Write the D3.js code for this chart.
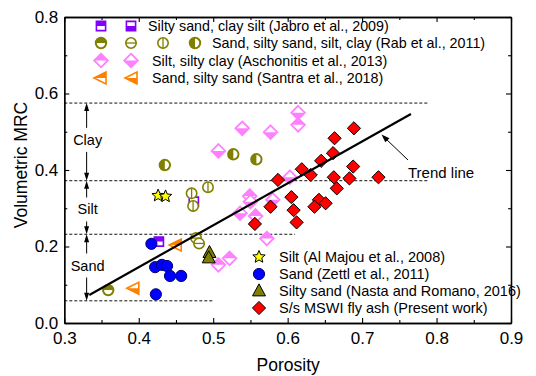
<!DOCTYPE html>
<html><head><meta charset="utf-8">
<script src="https://cdn.jsdelivr.net/npm/d3@7"></script>
<style>
html,body{margin:0;padding:0;background:#fff;}
svg{display:block;font-family:"Liberation Sans",Arial,sans-serif;}
</style></head><body>
<svg id="chart" width="536" height="376"></svg>
<script>
// ---- data: [porosity, volumetric MRC] ----
const jabroTop = [[0.427, 0.213]];
const jabroBottom = [[0.474, 0.317]];
const rabTop = [[0.359, 0.086]];
const rabHLine = [[0.477, 0.222], [0.481, 0.208]];
const rabVLine = [[0.471, 0.339], [0.493, 0.355], [0.473, 0.306]];
const rabLeft = [[0.435, 0.413], [0.527, 0.441], [0.558, 0.428]];
const aschTop = [[0.614, 0.518], [0.549, 0.332], [0.557, 0.280], [0.572, 0.221], [0.507, 0.152], [0.522, 0.169]];
const aschBottom = [[0.614, 0.550], [0.539, 0.509], [0.577, 0.499], [0.507, 0.450], [0.603, 0.381], [0.550, 0.317], [0.580, 0.322], [0.536, 0.287]];
const santraTop = [[0.449, 0.204]];
const santraBottom = [[0.392, 0.091]];
const alMajou = [[0.426, 0.333], [0.436, 0.331]];
const zettl = [[0.417, 0.207], [0.422, 0.146], [0.431, 0.152], [0.438, 0.149], [0.442, 0.123], [0.457, 0.123], [0.423, 0.075]];
const nasta = [[0.495, 0.184], [0.494, 0.170]];
const presentWork = [[0.689, 0.509], [0.663, 0.483], [0.661, 0.444], [0.645, 0.424], [0.619, 0.402], [0.631, 0.387],
  [0.587, 0.374], [0.688, 0.409], [0.662, 0.381], [0.683, 0.378], [0.722, 0.381], [0.666, 0.352], [0.605, 0.329],
  [0.642, 0.322], [0.636, 0.304], [0.651, 0.313], [0.608, 0.295], [0.577, 0.304], [0.612, 0.263], [0.556, 0.259]];

const trendLine = [[0.3336, 0.0732], [0.7656, 0.5464]];
const zoneLevels = [0.575, 0.372, 0.232, 0.058];
const zoneEnds = [0.79, 0.79, 0.61, 0.50];
const zoneNames = ["Clay", "Silt", "Sand"];
const xMajor = [0.3, 0.4, 0.5, 0.6, 0.7, 0.8, 0.9];
const xMinor = [0.35, 0.45, 0.55, 0.65, 0.75, 0.85];
const yMajor = [0.0, 0.2, 0.4, 0.6, 0.8];
const yMinor = [0.1, 0.3, 0.5, 0.7];

const legendTop = [
  "Silty sand, clay silt (Jabro et al., 2009)",
  "Sand, silty sand, silt, clay (Rab et al., 2011)",
  "Silt, silty clay (Aschonitis et al., 2013)",
  "Sand, silty sand (Santra et al., 2018)"
];
const legendBottom = [
  "Silt (Al Majou et al., 2008)",
  "Sand (Zettl et al., 2011)",
  "Silty sand (Nasta and Romano, 2016)",
  "S/s MSWI fly ash (Present work)"
];

// ---- layout ----
const svg = d3.select("#chart");
const L = 64.3, R = 511, T = 17, B = 323;
const x = d3.scaleLinear().domain([0.3, 0.9]).range([L, R]);
const y = d3.scaleLinear().domain([0, 0.8]).range([B, T]);

const PURPLE = "#8000ff", OLIVE = "#808000", PINK = "#ff80ff", ORANGE = "#ff8000";

// ---- marker builders ----
function halfPath(shape, s, half) {
  if (shape === "circle") {
    if (half === "top") return `M${-s},0A${s},${s} 0 0 1 ${s},0Z`;
    if (half === "bottom") return `M${-s},0A${s},${s} 0 0 0 ${s},0Z`;
    if (half === "left") return `M0,${-s}A${s},${s} 0 0 0 0,${s}Z`;
  }
  if (shape === "square") {
    if (half === "top") return `M${-s},${-s}H${s}V0H${-s}Z`;
    if (half === "bottom") return `M${-s},0H${s}V${s}H${-s}Z`;
  }
  if (shape === "diamond") {
    if (half === "top") return `M${-s},0L0,${-s}L${s},0Z`;
    if (half === "bottom") return `M${-s},0L0,${s}L${s},0Z`;
  }
  if (shape === "tri") {
    if (half === "top") return `M${-s},0L${s},${-s}L${s},0Z`;
    if (half === "bottom") return `M${-s},0L${s},0L${s},${s}Z`;
  }
  return "";
}
function fullPath(shape, s) {
  if (shape === "circle") return `M${-s},0A${s},${s} 0 1 1 ${s},0A${s},${s} 0 1 1 ${-s},0Z`;
  if (shape === "square") return `M${-s},${-s}H${s}V${s}H${-s}Z`;
  if (shape === "diamond") return `M0,${-s}L${s},0L0,${s}L${-s},0Z`;
  if (shape === "tri") return `M${-s},0L${s},${-s}L${s},${s}Z`;
  if (shape === "up") return `M0,${-s * 1.1}L${s},${s * 0.75}L${-s},${s * 0.75}Z`;
  if (shape === "star") {
    const pts = [];
    for (let i = 0; i < 10; i++) {
      const r = i % 2 ? s * 0.45 : s;
      const a = -Math.PI / 2 + i * Math.PI / 5;
      pts.push([r * Math.cos(a), r * Math.sin(a)]);
    }
    return "M" + pts.map(p => p[0].toFixed(2) + "," + p[1].toFixed(2)).join("L") + "Z";
  }
}

// style: {shape, size, color, half, line, fill, stroke, sw}
function drawMarker(g, cx, cy, st) {
  const m = g.append("g").attr("transform", `translate(${cx},${cy})`);
  const s = st.size;
  if (st.half || st.line) {
    m.append("path").attr("d", fullPath(st.shape, s)).attr("fill", "#fff");
    if (st.half) m.append("path").attr("d", halfPath(st.shape, s, st.half)).attr("fill", st.color);
    if (st.line === "h") m.append("line").attr("x1", -s).attr("x2", s).attr("y1", 0).attr("y2", 0)
      .attr("stroke", st.color).attr("stroke-width", 1.3);
    if (st.line === "v") m.append("line").attr("x1", 0).attr("x2", 0).attr("y1", -s).attr("y2", s)
      .attr("stroke", st.color).attr("stroke-width", 1.3);
    m.append("path").attr("d", fullPath(st.shape, s)).attr("fill", "none")
      .attr("stroke", st.color).attr("stroke-width", st.sw || 1.6);
  } else {
    m.append("path").attr("d", fullPath(st.shape, s)).attr("fill", st.fill)
      .attr("stroke", st.stroke).attr("stroke-width", st.sw || 1);
  }
}

const styles = {
  jabroTop: {shape: "square", size: 4.6, color: PURPLE, half: "top"},
  jabroBottom: {shape: "square", size: 4.6, color: PURPLE, half: "bottom"},
  rabTop: {shape: "circle", size: 5.2, color: OLIVE, half: "top", sw: 2},
  rabHLine: {shape: "circle", size: 5.2, color: OLIVE, line: "h"},
  rabVLine: {shape: "circle", size: 5.2, color: OLIVE, line: "v"},
  rabLeft: {shape: "circle", size: 5.2, color: OLIVE, half: "left", sw: 2},
  aschTop: {shape: "diamond", size: 6.8, color: PINK, half: "top", sw: 1.8},
  aschBottom: {shape: "diamond", size: 6.8, color: PINK, half: "bottom", sw: 1.8},
  santraTop: {shape: "tri", size: 6, color: ORANGE, half: "top", sw: 1.6},
  santraBottom: {shape: "tri", size: 6, color: ORANGE, half: "bottom", sw: 1.6},
  alMajou: {shape: "star", size: 6.5, fill: "#ffff00", stroke: "#000", sw: 1},
  zettl: {shape: "circle", size: 5.6, fill: "#0000ff", stroke: "#00007a", sw: 1},
  nasta: {shape: "up", size: 6.5, fill: OLIVE, stroke: "#000", sw: 1},
  presentWork: {shape: "diamond", size: 6.6, fill: "#ff0000", stroke: "#000", sw: 1}
};

// ---- zone reference lines ----
const zones = svg.append("g");
zoneLevels.forEach((v, i) => {
  zones.append("line").attr("x1", x(0.3)).attr("x2", x(zoneEnds[i]))
    .attr("y1", y(v)).attr("y2", y(v))
    .attr("stroke", "#111").attr("stroke-width", 1).attr("stroke-dasharray", "3,2");
});

// zone labels with double arrows
const arrowX = x(0.33);
function arrowHead(g, px, py, dir) {
  g.append("path").attr("d", `M${px},${py}L${px - 2.5},${py - dir * 8}L${px + 2.5},${py - dir * 8}Z`).attr("fill", "#000");
}
zoneNames.forEach((name, i) => {
  const yTop = y(zoneLevels[i]), yBot = y(zoneLevels[i + 1]);
  const yc = (yTop + yBot) / 2 + (i === 0 ? -2 : i === 1 ? 2 : -2);
  zones.append("line").attr("x1", arrowX).attr("x2", arrowX).attr("y1", yTop + 4).attr("y2", yc - 12)
    .attr("stroke", "#000").attr("stroke-width", 1);
  zones.append("line").attr("x1", arrowX).attr("x2", arrowX).attr("y1", yc + 12).attr("y2", yBot - 4)
    .attr("stroke", "#000").attr("stroke-width", 1);
  arrowHead(zones, arrowX, yTop, -1);
  arrowHead(zones, arrowX, yBot, 1);
  zones.append("text").attr("x", arrowX + 1).attr("y", yc + 5).attr("text-anchor", "middle")
    .attr("font-size", 14.5).text(name);
});

// ---- frame & axes ----
const axes = svg.append("g");
function axisGroup(axis, tx, ty) {
  const g = axes.append("g").attr("transform", `translate(${tx},${ty})`).call(axis);
  g.select(".domain").attr("stroke-width", 1.3);
  g.selectAll(".tick line").attr("stroke-width", 1.1);
  return g;
}
const fmt = d3.format(".1f");
const xb = axisGroup(d3.axisBottom(x).tickValues(xMajor).tickFormat(fmt).tickSize(-5).tickSizeOuter(0).tickPadding(9), 0, B);
axisGroup(d3.axisBottom(x).tickValues(xMinor).tickFormat("").tickSize(-3).tickSizeOuter(0), 0, B);
axisGroup(d3.axisTop(x).tickValues(xMajor).tickFormat("").tickSize(-5).tickSizeOuter(0), 0, T);
axisGroup(d3.axisTop(x).tickValues(xMinor).tickFormat("").tickSize(-3).tickSizeOuter(0), 0, T);
const yl = axisGroup(d3.axisLeft(y).tickValues(yMajor).tickFormat(fmt).tickSize(-5).tickSizeOuter(0).tickPadding(6), L, 0);
axisGroup(d3.axisLeft(y).tickValues(yMinor).tickFormat("").tickSize(-3).tickSizeOuter(0), L, 0);
axisGroup(d3.axisRight(y).tickValues(yMajor).tickFormat("").tickSize(-5).tickSizeOuter(0), R, 0);
axisGroup(d3.axisRight(y).tickValues(yMinor).tickFormat("").tickSize(-3).tickSizeOuter(0), R, 0);
[xb, yl].forEach(g => g.selectAll("text").attr("font-size", 17).attr("fill", "#000")
  .attr("font-family", '"Liberation Sans",Arial,sans-serif'));

axes.append("text").attr("x", (L + R) / 2 + 0.5).attr("y", 371).attr("text-anchor", "middle")
  .attr("font-size", 17.5).text("Porosity");
axes.append("text").attr("transform", `translate(27,${(T + B) / 2 - 5}) rotate(-90)`)
  .attr("text-anchor", "middle").attr("font-size", 17.5).text("Volumetric MRC");

// ---- data markers ----
const marks = svg.append("g");
const seriesOrder = [
  ["jabroTop", jabroTop], ["jabroBottom", jabroBottom],
  ["aschTop", aschTop], ["aschBottom", aschBottom],
  ["rabTop", rabTop], ["rabHLine", rabHLine], ["rabVLine", rabVLine], ["rabLeft", rabLeft],
  ["santraTop", santraTop], ["santraBottom", santraBottom],
  ["alMajou", alMajou], ["zettl", zettl], ["nasta", nasta], ["presentWork", presentWork]
];
seriesOrder.forEach(([key, pts]) => {
  pts.forEach(p => drawMarker(marks, x(p[0]), y(p[1]), styles[key]));
});

// ---- trend line ----
svg.append("path").datum(trendLine)
  .attr("d", d3.line().x(d => x(d[0])).y(d => y(d[1])))
  .attr("fill", "none").attr("stroke", "#000").attr("stroke-width", 2.2);

const ann = svg.append("g");
ann.append("line").attr("x1", 408).attr("y1", 160).attr("x2", 385).attr("y2", 138)
  .attr("stroke", "#000").attr("stroke-width", 1);
ann.append("path").attr("d", "M381.5,134.5L389.5,138.3L385.3,142.3Z").attr("fill", "#000");
ann.append("text").attr("x", 408).attr("y", 178).attr("font-size", 15).text("Trend line");

// ---- legends ----
const leg = svg.append("g");
const topRows = [
  {y: 26, marks: [["jabroTop", 101], ["jabroBottom", 131]], tx: 148},
  {y: 43, marks: [["rabTop", 101], ["rabHLine", 131], ["rabVLine", 163], ["rabLeft", 195]], tx: 212},
  {y: 60.5, marks: [["aschTop", 101], ["aschBottom", 131]], tx: 152},
  {y: 78, marks: [["santraTop", 100], ["santraBottom", 131]], tx: 152}
];
topRows.forEach((row, i) => {
  row.marks.forEach(([key, mx]) => drawMarker(leg, mx, row.y, styles[key]));
  leg.append("text").attr("x", row.tx).attr("y", row.y + 5).attr("font-size", 14.3).text(legendTop[i]);
});
const botKeys = ["alMajou", "zettl", "nasta", "presentWork"];
botKeys.forEach((key, i) => {
  const ly = 257 + i * 17;
  drawMarker(leg, 259, ly, styles[key]);
  leg.append("text").attr("x", 279).attr("y", ly + 5).attr("font-size", 14.5).text(legendBottom[i]);
});
</script>
</body></html>
